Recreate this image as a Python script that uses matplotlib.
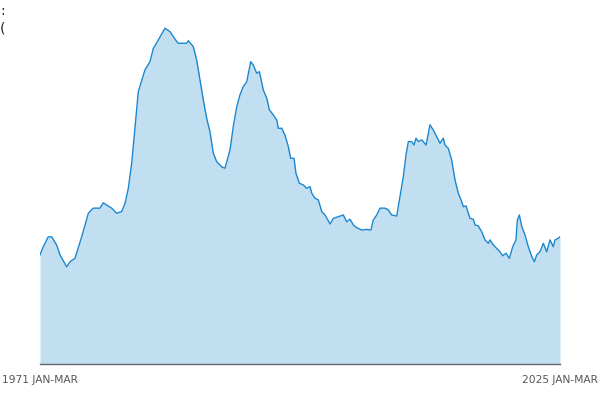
import matplotlib
matplotlib.use("Agg")
import matplotlib.pyplot as plt

# rolling quarters as (decimal year, rate %)
years = [
    1971.00, 1971.34, 1971.86, 1972.21, 1972.73, 1973.08, 1973.77, 1974.12, 1974.63, 1975.33,
    1976.02, 1976.53, 1977.23, 1977.57, 1977.93, 1978.45, 1978.97, 1979.48, 1979.83, 1980.17,
    1980.52, 1980.87, 1981.21, 1981.90, 1982.42, 1982.77, 1983.29, 1983.98, 1984.50, 1985.20,
    1985.36, 1986.23, 1986.40, 1986.92, 1987.27, 1987.62, 1987.96, 1988.31, 1988.65, 1989.00,
    1989.35, 1989.87, 1990.21, 1990.73, 1991.07, 1991.43, 1991.77, 1992.11, 1992.47, 1992.88,
    1993.15, 1993.51, 1993.78, 1994.19, 1994.55, 1994.82, 1995.23, 1995.58, 1995.75, 1996.10,
    1996.44, 1996.79, 1997.03, 1997.38, 1997.58, 1997.93, 1998.34, 1998.70, 1999.04, 1999.22,
    1999.56, 1999.90, 2000.26, 2000.60, 2001.12, 2001.46, 2001.98, 2002.50, 2002.85, 2003.19,
    2003.54, 2003.89, 2004.41, 2004.93, 2005.37, 2005.61, 2005.97, 2006.31, 2006.83, 2007.17,
    2007.52, 2008.04, 2008.38, 2008.73, 2009.01, 2009.25, 2009.60, 2009.84, 2010.05, 2010.29,
    2010.64, 2011.09, 2011.50, 2011.84, 2012.20, 2012.54, 2012.88, 2013.06, 2013.40, 2013.75,
    2014.10, 2014.44, 2014.79, 2014.96, 2015.24, 2015.65, 2016.00, 2016.18, 2016.52, 2016.87,
    2017.21, 2017.56, 2017.73, 2018.08, 2018.43, 2018.77, 2019.05, 2019.39, 2019.74, 2020.09,
    2020.43, 2020.57, 2020.78, 2021.03, 2021.37, 2021.71, 2022.07, 2022.34, 2022.58, 2022.92,
    2023.27, 2023.62, 2023.96, 2024.31, 2024.48, 2024.83, 2025.00,
]
rates = [
    3.85, 4.14, 4.49, 4.49, 4.20, 3.85, 3.43, 3.61, 3.73, 4.49,
    5.32, 5.50, 5.50, 5.69, 5.61, 5.50, 5.32, 5.38, 5.67, 6.20,
    7.08, 8.38, 9.61, 10.38, 10.67, 11.14, 11.44, 11.85, 11.73, 11.38,
    11.32, 11.32, 11.41, 11.20, 10.73, 10.02, 9.32, 8.67, 8.20, 7.44,
    7.14, 6.96, 6.91, 7.55, 8.38, 9.08, 9.50, 9.79, 9.96, 10.67,
    10.55, 10.26, 10.32, 9.67, 9.38, 8.97, 8.79, 8.61, 8.32, 8.32,
    8.08, 7.67, 7.26, 7.26, 6.73, 6.38, 6.32, 6.20, 6.26, 6.03,
    5.85, 5.79, 5.38, 5.26, 4.94, 5.14, 5.20, 5.26, 5.02, 5.11,
    4.91, 4.81, 4.73, 4.75, 4.73, 5.08, 5.26, 5.50, 5.50, 5.44,
    5.26, 5.22, 5.91, 6.61, 7.38, 7.85, 7.85, 7.73, 7.97, 7.85,
    7.91, 7.73, 8.44, 8.26, 8.02, 7.79, 7.97, 7.73, 7.61, 7.20,
    6.49, 6.03, 5.73, 5.55, 5.58, 5.14, 5.11, 4.91, 4.87, 4.67,
    4.38, 4.26, 4.38, 4.20, 4.08, 3.96, 3.82, 3.91, 3.73, 4.14,
    4.38, 5.08, 5.26, 4.85, 4.55, 4.14, 3.79, 3.61, 3.85, 3.96,
    4.26, 3.96, 4.38, 4.14, 4.38, 4.44, 4.49,
]
tick_years = [1971, 2025]
tick_labels = ["1971 JAN-MAR", "2025 JAN-MAR"]

fig = plt.figure(figsize=(6, 4), dpi=100)
ax = fig.add_axes([40 / 600, 36 / 400, 520 / 600, 340 / 400])

ax.fill_between(years, rates, 0, color="#c1dff0", linewidth=0)
ax.plot(years, rates, color="#1b87cf", linewidth=1)

ax.set_xlim(years[0], years[-1])
ax.set_ylim(0, 12)
ax.set_yticks([])
ax.set_xticks(tick_years)
ax.set_xticklabels(tick_labels, fontsize=7.7, color="#555555")
ax.tick_params(axis="x", length=0, pad=8)

for side in ["top", "right", "left"]:
    ax.spines[side].set_visible(False)
ax.spines["bottom"].set_color("#666666")
ax.spines["bottom"].set_linewidth(1)

# clipped title remnants at the top left
fig.text(0.0, 1 - 11 / 400, ":", fontsize=10, va="center", ha="left", color="#222222")
fig.text(0.0, 1 - 28 / 400, "(", fontsize=10, va="center", ha="left", color="#222222")

fig.savefig("out.png", dpi=100)
